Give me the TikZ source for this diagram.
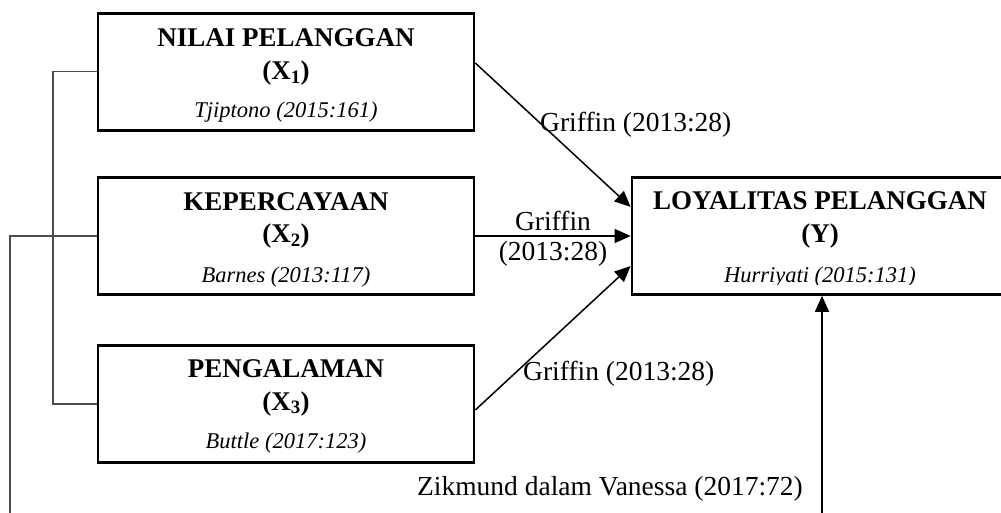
\documentclass[tikz,border=0pt]{standalone}
\usepackage{fontspec}
\setmainfont{Liberation Serif}
\usetikzlibrary{arrows.meta,calc}
\begin{document}
\begin{tikzpicture}[x=1pt,y=-1pt,
 box/.style={draw=black,line width=2.6pt,minimum width=376pt,minimum height=117pt,inner sep=0pt},
 ttl/.style={font=\fontsize{27}{30}\selectfont\bfseries,anchor=base,inner sep=0pt},
 cit/.style={font=\fontsize{22.5}{26}\selectfont\itshape,anchor=base,inner sep=0pt},
 lbl/.style={font=\fontsize{27.5}{31}\selectfont,inner sep=0pt},
 arr/.style={line width=1.5pt,-{Triangle[length=16pt,width=14pt]}},
 lnk/.style={line width=1.4pt,draw=black!70}]
\useasboundingbox (0,0) rectangle (1001,513);
% boxes
\node[box] (x1) at (286,71.75) {};
\node[box] (x2) at (286,236) {};
\node[box] (x3) at (286,404) {};
\node[box] (y) at (820,236) {};
% box texts
\node[ttl] (x1t) at (286,47) {NILAI PELANGGAN};
\node[ttl] (x1s) at (286,80) {(X\textsubscript{1})};
\begin{scope}
\clip (x1.north west) rectangle ([yshift=10pt]x1.south east);
\node[cit] (x1c) at (286,118) {Tjiptono (2015:161)};
\end{scope}
\node[ttl] (x2t) at (286,211) {KEPERCAYAAN};
\node[ttl] (x2s) at (286,243) {(X\textsubscript{2})};
\begin{scope}
\clip (x2.north west) rectangle ([yshift=9pt]x2.south east);
\node[cit] (x2c) at (286,282) {Barnes (2013:117)};
\end{scope}
\node[ttl] (x3t) at (286,377) {PENGALAMAN};
\node[ttl] (x3s) at (286,410) {(X\textsubscript{3})};
\node[cit] (x3c) at (286,448) {Buttle (2017:123)};
\node[ttl] (yt) at (820,210) {LOYALITAS PELANGGAN};
\node[ttl] (ys) at (820,243) {(Y)};
\begin{scope}
\clip (y.north west) rectangle ([yshift=11pt]y.south east);
\node[cit] (yc) at (820,282) {Hurriyati (2015:131)};
\end{scope}
% left links
\coordinate (lb) at (53,0);
\draw[lnk] (x1.west) -- (x1.west -| lb) -- (x3.west -| lb) -- (x3.west);
\coordinate (le) at (10,516);
\draw[lnk] (x2.west) -| (le);
% arrows
\draw[arr] ([yshift=8.75pt]x1.east) -- ([yshift=29pt]y.west);
\draw[arr] (x2.east) -- (y.west);
\draw[arr] ([yshift=-6pt]x3.east) -- ([yshift=-30pt]y.west);
\coordinate (bs) at (822,516);
\draw[arr] (bs) -- (bs |- y.south);
% labels
\node[lbl,anchor=base west] (g1) at (540,132) {Griffin (2013:28)};
\node[lbl,anchor=base] (g2a) at (553,230) {Griffin};
\node[lbl,anchor=base] (g2b) at (553,260) {(2013:28)};
\node[lbl,anchor=base west] (g3) at (523,380) {Griffin (2013:28)};
\node[lbl,anchor=base east] (zk) at (803,495) {Zikmund dalam Vanessa (2017:72)};
\end{tikzpicture}
\end{document}
